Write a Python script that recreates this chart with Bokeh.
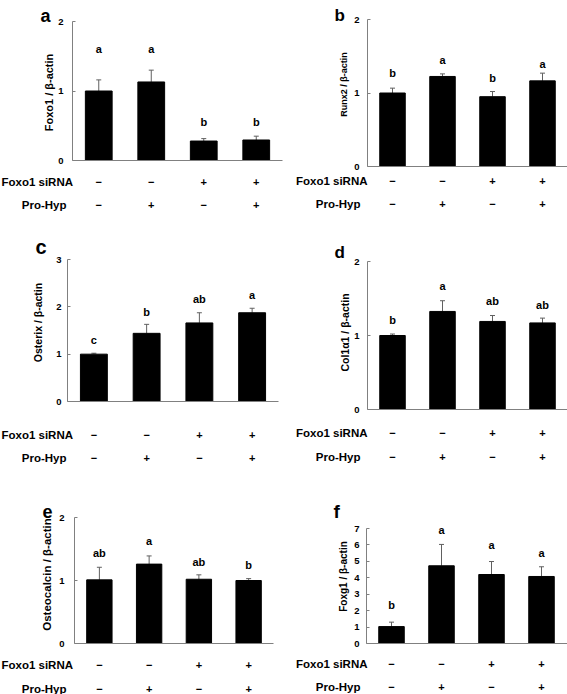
import math
from bokeh.plotting import figure
from bokeh.models import Range1d, FixedTicker, Label, LabelSet, ColumnDataSource, LinearAxis
from bokeh.layouts import column, row
from bokeh.core.properties import value
from bokeh.embed import file_html
from bokeh.resources import INLINE

FONT = "Liberation Sans"

# ---------------- data ----------------
row_names = ["Foxo1 siRNA", "Pro-Hyp"]
foxo1_sirna_signs = ["−", "−", "+", "+"]
pro_hyp_signs = ["−", "+", "−", "+"]

ticks_0_2 = [0, 1, 2]
ticks_0_3 = [0, 1, 2, 3]
ticks_0_7 = [0, 1, 2, 3, 4, 5, 6, 7]

foxo1_mean = [1.00, 1.13, 0.28, 0.295]
foxo1_err = [0.16, 0.17, 0.035, 0.055]
foxo1_letters = ["a", "a", "b", "b"]
foxo1_letter_y = [1.61, 1.61, 0.55, 0.55]

runx2_mean = [1.00, 1.225, 0.95, 1.165]
runx2_err = [0.066, 0.035, 0.07, 0.105]
runx2_letters = ["b", "a", "b", "a"]
runx2_letter_y = [1.27, 1.45, 1.20, 1.40]

osterix_mean = [1.00, 1.44, 1.66, 1.875]
osterix_err = [0.02, 0.19, 0.215, 0.095]
osterix_letters = ["c", "b", "ab", "a"]
osterix_letter_y = [1.30, 1.90, 2.16, 2.26]

col1a1_mean = [1.00, 1.325, 1.19, 1.17]
col1a1_err = [0.02, 0.145, 0.08, 0.065]
col1a1_letters = ["b", "a", "ab", "ab"]
col1a1_letter_y = [1.21, 1.675, 1.46, 1.415]

osteocalcin_mean = [1.01, 1.26, 1.02, 1.00]
osteocalcin_err = [0.20, 0.13, 0.07, 0.03]
osteocalcin_letters = ["ab", "a", "ab", "b"]
osteocalcin_letter_y = [1.43, 1.63, 1.29, 1.25]

foxg1_mean = [1.03, 4.73, 4.20, 4.08]
foxg1_err = [0.27, 1.30, 0.79, 0.59]
foxg1_letters = ["b", "a", "a", "a"]
foxg1_letter_y = [2.34, 6.92, 6.01, 5.50]

AXIS_COLOR = "#808080"
ERR_COLOR = "#606060"


def panel(tag, ylabel, mean, err, letters, letter_y, ticks, geo):
    bx0, by0, bx1, by1 = geo["box"]
    fl, ft, fr, fb = geo["frame"]
    slot = geo["slot"]
    ymax = ticks[-1]
    k = (fb - ft) / ymax

    def dx(px):
        return 0.5 + (px - fl) / slot

    def dy(py):
        return (fb - py) / k

    p = figure(width=bx1 - bx0, height=by1 - by0,
               x_range=Range1d(dx(bx0), dx(bx1)), y_range=Range1d(dy(by1), dy(by0)),
               output_backend="svg", toolbar_location=None,
               x_axis_location=None, y_axis_location=None,
               min_border_left=0, min_border_right=0,
               min_border_top=0, min_border_bottom=0)
    p.outline_line_color = None
    p.background_fill_color = "white"
    p.border_fill_color = "white"
    p.xgrid.visible = False
    p.ygrid.visible = False

    yaxis = LinearAxis(fixed_location=0.5, bounds=(0, ymax),
                       ticker=FixedTicker(ticks=ticks),
                       axis_line_color=AXIS_COLOR,
                       major_tick_line_color=AXIS_COLOR,
                       major_tick_in=3, major_tick_out=0,
                       minor_tick_line_color=None,
                       major_label_text_font=FONT,
                       major_label_text_font_style="bold",
                       major_label_text_font_size="9.5px",
                       major_label_text_color="black",
                       major_label_standoff=geo["tick_standoff"])
    p.add_layout(yaxis, "left")
    xaxis = LinearAxis(fixed_location=0, bounds=(0.5, dx(fr)),
                       ticker=FixedTicker(ticks=[]),
                       axis_line_color=AXIS_COLOR,
                       major_tick_line_color=None,
                       minor_tick_line_color=None,
                       major_label_text_font_size="0px")
    p.add_layout(xaxis, "below")

    xs = [i + 1 for i in range(len(mean))]
    tops = [m + e for m, e in zip(mean, err)]
    cap = 2.5 / slot

    p.segment(x0=xs, y0=mean, x1=xs, y1=tops, line_color=ERR_COLOR, line_width=1)
    p.segment(x0=[x - cap for x in xs], y0=tops, x1=[x + cap for x in xs], y1=tops,
              line_color=ERR_COLOR, line_width=1)
    p.vbar(x=xs, top=mean, bottom=0, width=0.51, fill_color="black", line_color="black")

    lsrc = ColumnDataSource(dict(x=xs, y=letter_y, t=letters))
    p.add_layout(LabelSet(x="x", y="y", text="t", source=lsrc,
                          text_font=value(FONT), text_font_size=value("11px"),
                          text_font_style="bold", text_align="center",
                          text_baseline="middle", text_color="black"))

    r1, r2 = geo["row_y"]
    ssrc = ColumnDataSource(dict(
        x=xs + xs,
        y=[dy(r1)] * len(xs) + [dy(r2)] * len(xs),
        t=foxo1_sirna_signs + pro_hyp_signs))
    p.add_layout(LabelSet(x="x", y="y", text="t", source=ssrc,
                          text_font=value(FONT), text_font_size=value("11px"),
                          text_font_style="bold", text_align="center",
                          text_baseline="middle", text_color="black"))

    for name, ry, rx in zip(row_names, geo["row_y"], geo["row_x"]):
        p.add_layout(Label(x=dx(rx), y=dy(ry), text=name, text_font=FONT,
                           text_font_size="11.5px", text_font_style="bold",
                           text_align="right", text_baseline="middle",
                           text_color="black"))

    yx, yy = geo["ylabel_pos"]
    p.add_layout(Label(x=dx(yx), y=dy(yy), text=ylabel, angle=math.pi / 2,
                       angle_units="rad", text_font=FONT,
                       text_font_size=geo["ylabel_size"], text_font_style="bold",
                       text_align="center", text_baseline="middle",
                       text_color="black"))

    tx, ty = geo["tag_pos"]
    p.add_layout(Label(x=dx(tx), y=dy(ty), text=tag, text_font=FONT,
                       text_font_size=geo["tag_size"], text_font_style="bold",
                       text_align="left", text_baseline="alphabetic",
                       text_color="black"))
    return p


pa = panel("a", "Foxo1 / β-actin", foxo1_mean, foxo1_err, foxo1_letters,
           foxo1_letter_y, ticks_0_2,
           dict(box=(0, 0, 288, 222), frame=(72, 21, 282, 160), slot=52.5,
                tick_standoff=9, row_y=(181, 204), row_x=(72.5, 66),
                ylabel_pos=(48, 92), ylabel_size="11px",
                tag_pos=(40, 15), tag_size="18px"))
pb = panel("b", "Runx2 / β-actin", runx2_mean, runx2_err, runx2_letters,
           runx2_letter_y, ticks_0_2,
           dict(box=(288, 0, 567, 222), frame=(367, 19, 567, 166), slot=50,
                tick_standoff=8, row_y=(180, 203), row_x=(367, 360),
                ylabel_pos=(343, 84), ylabel_size="9px",
                tag_pos=(334, 15), tag_size="17px"))
pc = panel("c", "Osterix / β-actin", osterix_mean, osterix_err, osterix_letters,
           osterix_letter_y, ticks_0_3,
           dict(box=(0, 222, 288, 472), frame=(67, 259, 278, 401), slot=52.75,
                tick_standoff=6, row_y=(434, 457), row_x=(72.5, 66),
                ylabel_pos=(37, 322), ylabel_size="10.5px",
                tag_pos=(35, 246), tag_size="20px"))
pd = panel("d", "Col1α1 / β-actin", col1a1_mean, col1a1_err, col1a1_letters,
           col1a1_letter_y, ticks_0_2,
           dict(box=(288, 222, 567, 472), frame=(367, 261, 567, 409), slot=50,
                tick_standoff=8, row_y=(432, 456), row_x=(367, 360),
                ylabel_pos=(344, 332), ylabel_size="10.5px",
                tag_pos=(334, 252), tag_size="17px"))
pe = panel("e", "Osteocalcin / β-actin", osteocalcin_mean, osteocalcin_err,
           osteocalcin_letters, osteocalcin_letter_y, ticks_0_2,
           dict(box=(0, 472, 288, 694), frame=(74, 517, 273, 643), slot=49.75,
                tick_standoff=10, row_y=(664, 688), row_x=(72.5, 66),
                ylabel_pos=(46, 574), ylabel_size="11.5px",
                tag_pos=(42, 511), tag_size="18px"))
pf = panel("f", "Foxg1 / β-actin", foxg1_mean, foxg1_err, foxg1_letters,
           foxg1_letter_y, ticks_0_7,
           dict(box=(288, 472, 567, 694), frame=(366, 528, 567, 643), slot=50,
                tick_standoff=7, row_y=(663, 686), row_x=(367, 360),
                ylabel_pos=(343, 576), ylabel_size="10px",
                tag_pos=(333, 511), tag_size="19px"))

layout = column(row(pa, pb), row(pc, pd), row(pe, pf))
open("out.html", "w").write(file_html(layout, INLINE))
